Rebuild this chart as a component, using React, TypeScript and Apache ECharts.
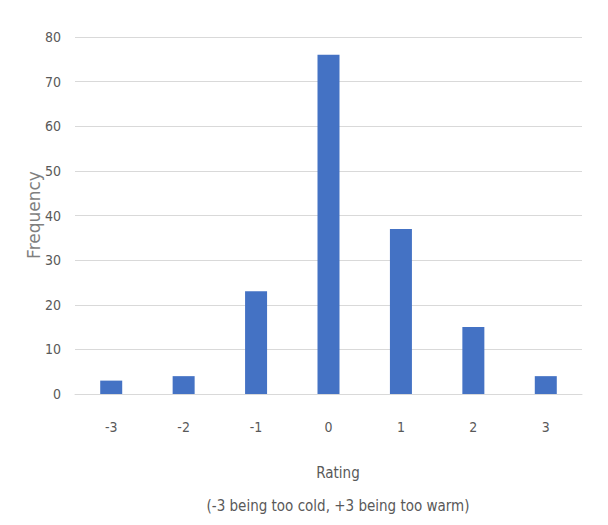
import React, { useEffect, useRef } from "react";
import * as echarts from "echarts";

const categories = ["-3", "-2", "-1", "0", "1", "2", "3"];
const frequency = [3, 4, 23, 76, 37, 15, 4];
const yTicks = { min: 0, max: 80, interval: 10 };
const xTitle = "Rating";
const xSubtitle = "(-3 being too cold, +3 being too warm)";
const yTitle = "Frequency";

const FONT = "'Liberation Sans Narrow', 'DejaVu Sans Condensed', 'Open Sans', sans-serif";

export default function App() {
  const ref = useRef<HTMLDivElement>(null);
  useEffect(() => {
    const chart = echarts.init(ref.current!, null, { renderer: "svg" });
    chart.setOption({
      animation: false,
      backgroundColor: "#ffffff",
      grid: { left: 75, right: 26, top: 37, bottom: 131, containLabel: false },
      xAxis: {
        type: "category",
        data: categories,
        axisLine: { show: true, lineStyle: { color: "#d9d9d9", width: 1 } },
        axisTick: { show: false },
        axisLabel: { color: "#595959", fontSize: 14, fontFamily: FONT, margin: 26 },
      },
      yAxis: {
        type: "value",
        min: yTicks.min,
        max: yTicks.max,
        interval: yTicks.interval,
        axisLine: { show: false },
        axisTick: { show: false },
        splitLine: { lineStyle: { color: "#d9d9d9", width: 1 } },
        axisLabel: { color: "#595959", fontSize: 14, fontFamily: FONT, margin: 14 },
      },
      series: [
        {
          type: "bar",
          data: frequency,
          barWidth: 22,
          itemStyle: { color: "#4472c4" },
        },
      ],
      graphic: [
        {
          type: "text",
          x: 34,
          y: 215,
          rotation: Math.PI / 2,
          style: {
            text: yTitle,
            fill: "#7f7f7f",
            fontSize: 17,
            fontFamily: "'DejaVu Sans', sans-serif",
            align: "center",
            verticalAlign: "middle",
          },
        },
        {
          type: "text",
          x: 338,
          y: 473,
          style: {
            text: xTitle,
            fill: "#595959",
            fontSize: 15,
            fontFamily: FONT,
            align: "center",
            verticalAlign: "middle",
          },
        },
        {
          type: "text",
          x: 338,
          y: 506,
          style: {
            text: xSubtitle,
            fill: "#595959",
            fontSize: 15,
            fontFamily: FONT,
            align: "center",
            verticalAlign: "middle",
          },
        },
      ],
    });
    return () => chart.dispose();
  }, []);
  return (
    <div
      ref={ref}
      style={{ position: "fixed", left: 0, top: 0, width: 608, height: 525 }}
    />
  );
}
